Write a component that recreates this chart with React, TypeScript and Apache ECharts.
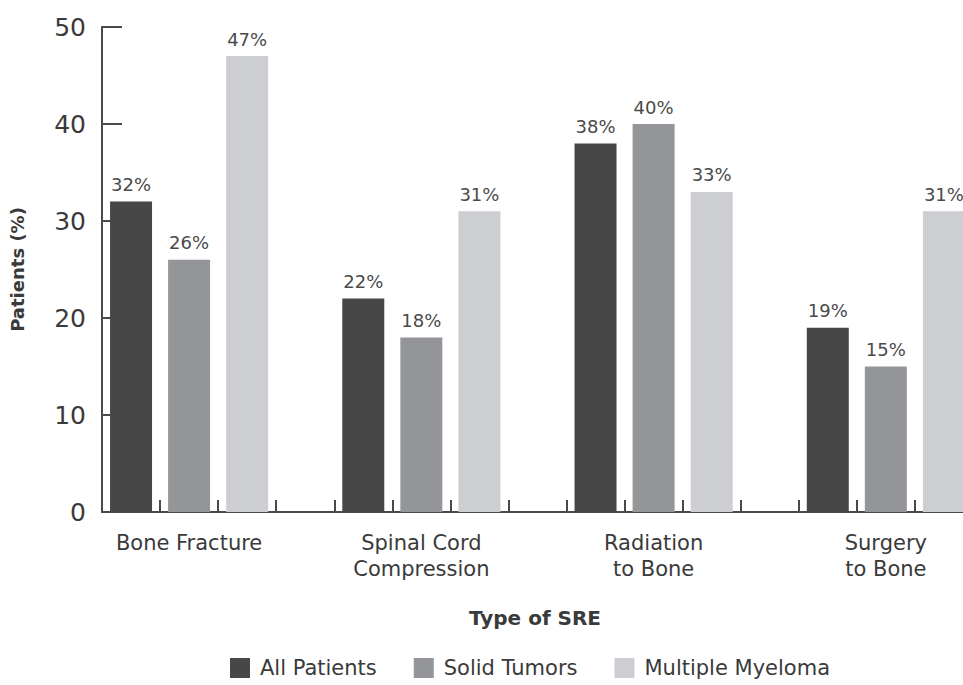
import React, { useEffect, useRef } from "react";
import * as echarts from "echarts";

const categories = ["Bone Fracture", "Spinal Cord\nCompression", "Radiation\nto Bone", "Surgery\nto Bone"];
const seriesNames = ["All Patients", "Solid Tumors", "Multiple Myeloma"];
const allPatients = [32, 22, 38, 19];
const solidTumors = [26, 18, 40, 15];
const multipleMyeloma = [47, 31, 33, 31];
const yTicks = [0, 10, 20, 30, 40, 50];
const colors = ["#474747", "#939598", "#cdced1"];

const FONT = "'DejaVu Sans', 'Open Sans', sans-serif";

export default function App() {
  const ref = useRef<HTMLDivElement>(null);
  useEffect(() => {
    if (!ref.current) return;
    const chart = echarts.init(ref.current, undefined, { renderer: "svg" });
    const slotsPerGroup = 4;
    const nSlots = categories.length * slotsPerGroup;
    const slotLabels: string[] = [];
    for (let i = 0; i < nSlots; i++) {
      slotLabels.push(i % slotsPerGroup === 1 ? categories[Math.floor(i / slotsPerGroup)] : "");
    }
    const values = [allPatients, solidTumors, multipleMyeloma];
    const series = values.map((vals, s) => {
      const data: any[] = [];
      for (let i = 0; i < nSlots; i++) {
        const g = Math.floor(i / slotsPerGroup);
        data.push(i % slotsPerGroup === s ? vals[g] : "-");
      }
      return {
        name: seriesNames[s],
        type: "bar",
        data,
        barWidth: 42,
        barGap: "-100%",
        itemStyle: { color: colors[s] },
        label: {
          show: true,
          position: "top",
          distance: 8,
          formatter: "{c}%",
          fontFamily: FONT,
          fontSize: 18,
          fontWeight: "normal",
          color: "#4a4a4a",
        },
      };
    });
    chart.setOption({
      animation: false,
      backgroundColor: "#ffffff",
      textStyle: { fontFamily: FONT },
      grid: { left: 98, top: 27, width: 933, height: 485, containLabel: false },
      legend: {
        data: seriesNames,
        left: 230,
        top: 657,
        padding: 0,
        itemWidth: 20,
        itemHeight: 20,
        itemGap: 37,
        icon: "rect",
        textStyle: { fontFamily: FONT, fontSize: 21, lineHeight: 22, color: "#3a3a3a", padding: [0, 0, 0, 5] },
      },
      graphic: [
        {
          type: "text",
          x: 535,
          y: 618,
          style: {
            text: "Type of SRE",
            fontFamily: FONT,
            fontSize: 20,
            fontWeight: "bold",
            fill: "#3a3a3a",
            textAlign: "center",
            textVerticalAlign: "middle",
          },
        },
      ],
      xAxis: {
        type: "category",
        data: slotLabels,
        boundaryGap: true,
        axisLine: { show: true, lineStyle: { color: "#4a4a4a", width: 2 } },
        axisTick: { show: true, inside: true, length: 12, interval: 0, lineStyle: { color: "#4a4a4a", width: 2 } },
        axisLabel: {
          interval: 0,
          margin: 18,
          fontFamily: FONT,
          fontSize: 21,
          lineHeight: 26,
          color: "#3a3a3a",
        },
      },
      yAxis: {
        type: "value",
        min: yTicks[0],
        max: yTicks[yTicks.length - 1],
        interval: 10,
        name: "Patients (%)",
        nameLocation: "middle",
        nameGap: 76,
        nameRotate: 90,
        nameTextStyle: { fontFamily: FONT, fontSize: 18, fontWeight: "bold", color: "#3a3a3a" },
        axisLine: { show: true, lineStyle: { color: "#4a4a4a", width: 2 } },
        axisTick: { show: true, inside: true, length: 20, lineStyle: { color: "#4a4a4a", width: 2 } },
        splitLine: { show: false },
        axisLabel: { margin: 16, fontFamily: FONT, fontSize: 25, color: "#3a3a3a" },
      },
      series,
    });
    return () => chart.dispose();
  }, []);
  return (
    <div style={{ position: "absolute", left: 0, top: 0, width: 963, height: 685, overflow: "hidden" }}>
      <div ref={ref} style={{ position: "absolute", left: 0, top: 0, width: 1040, height: 685 }} />
    </div>
  );
}
